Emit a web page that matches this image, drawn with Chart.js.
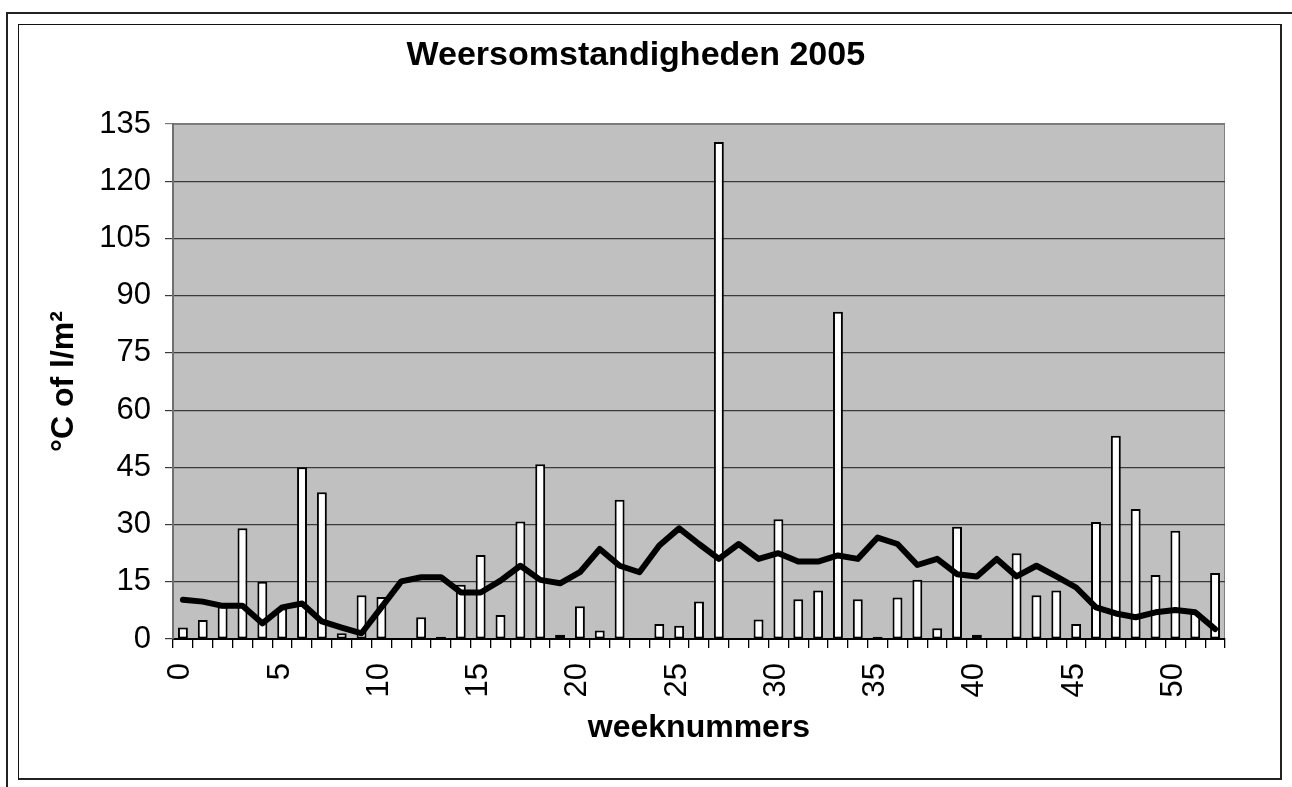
<!DOCTYPE html>
<html>
<head>
<meta charset="utf-8">
<script src="https://cdn.jsdelivr.net/npm/chart.js@4"></script>
<style>
  html, body { margin: 0; padding: 0; background: #fff; width: 1292px; height: 787px; overflow: hidden; }
  #outer { position: absolute; left: 6px; top: 12px; width: 2000px; height: 2000px; border-left: 2px solid #222; border-top: 2px solid #222; }
  #inner { position: absolute; left: 18px; top: 24px; border-left: 1px solid #111; border-top: 1px solid #111; border-right: 2px solid #222; border-bottom: 2px solid #222; box-sizing: border-box; width: 1264px; height: 756px; }
  #c { position: absolute; left: 0; top: 0; z-index: 2; }
</style>
</head>
<body>
<div id="outer"></div>
<div id="inner"></div>
<canvas id="c" width="1292" height="787"></canvas>
<script>
const weeks = [0,1,2,3,4,5,6,7,8,9,10,11,12,13,14,15,16,17,18,19,20,21,22,23,24,25,26,27,28,29,30,31,32,33,34,35,36,37,38,39,40,41,42,43,44,45,46,47,48,49,50,51,52];
const shownWeekLabels = ['0','5','10','15','20','25','30','35','40','45','50'];
const rainfall = [3,5,8.5,29,15,8,45,38.5,1.5,11.5,11,0,5.7,0.6,14.2,22,6.3,30.8,45.8,1.1,8.6,2.2,36.5,0,3.9,3.5,9.8,130.3,0,5.1,31.4,10.4,12.7,85.8,10.4,0.6,10.9,15.5,2.8,29.4,1.1,0,22.5,11.5,12.7,3.9,30.7,53.3,34.1,16.8,28.4,7,17.3];
const temperature = [10.3,9.8,8.7,8.7,4.1,8.3,9.3,4.6,3.0,1.5,8.3,15.1,16.2,16.2,12.2,12.2,15.3,19.2,15.5,14.6,17.5,23.6,19.2,17.5,24.5,29.0,24.9,21.0,24.9,21.0,22.5,20.3,20.3,21.9,21.0,26.6,24.9,19.4,21.0,17.0,16.4,21.0,16.4,19.2,16.4,13.5,8.3,6.7,5.7,7.0,7.6,7.0,2.6];
const yTicks = [0,15,30,45,60,75,90,105,120,135];
const chartTitle = 'Weersomstandigheden 2005';
const xTitle = 'weeknummers';
const yTitle = '°C of l/m²';

const FONT = "'Liberation Sans', Arial, sans-serif";

const plotBg = {
  id: 'plotBg',
  beforeDraw(chart) {
    const {ctx, chartArea: a} = chart;
    ctx.save();
    ctx.fillStyle = '#C0C0C0';
    ctx.fillRect(a.left, a.top, a.right - a.left, a.bottom - a.top);
    ctx.strokeStyle = '#808080';
    ctx.lineWidth = 1;
    ctx.strokeRect(a.left + 0.5, a.top + 0.5, a.right - a.left - 1, a.bottom - a.top - 1);
    ctx.restore();
  }
};

new Chart(document.getElementById('c'), {
  data: {
    labels: weeks.map(String),
    datasets: [
      {
        type: 'line',
        label: 'temperatuur',
        data: temperature,
        borderColor: '#000',
        borderWidth: 6,
        borderJoinStyle: 'round',
        borderCapStyle: 'round',
        pointRadius: 0,
        tension: 0,
        order: 0
      },
      {
        type: 'bar',
        label: 'neerslag',
        data: rainfall,
        backgroundColor: '#fff',
        borderColor: '#000',
        borderWidth: 2,
        borderSkipped: false,
        barPercentage: 0.5,
        categoryPercentage: 1,
        order: 1
      }
    ]
  },
  options: {
    responsive: false,
    animation: false,
    devicePixelRatio: 1,
    layout: { padding: { left: 18, right: 38.4, top: 0, bottom: 0 } },
    plugins: {
      legend: { display: false },
      tooltip: { enabled: false },
      title: {
        display: true,
        text: chartTitle,
        color: '#000',
        font: { family: FONT, size: 34, weight: 'bold' },
        padding: { top: 35.4, bottom: 47.8 }
      }
    },
    scales: {
      x: {
        type: 'category',
        offset: true,
        grid: { display: true, drawOnChartArea: false, drawTicks: true, tickLength: 9, offset: true, color: '#000', lineWidth: 1.3 },
        border: { display: true, color: '#000', width: 2 },
        ticks: {
          autoSkip: false,
          minRotation: 90,
          maxRotation: 90,
          padding: 15,
          labelOffset: -2,
          color: '#000',
          font: { family: FONT, size: 31 },
          callback: function(val, i) {
            const l = String(weeks[i]);
            return shownWeekLabels.includes(l) ? l : '';
          }
        },
        title: {
          display: true,
          text: xTitle,
          color: '#000',
          font: { family: FONT, size: 32, weight: 'bold' },
          padding: { top: 0, bottom: 39.4 }
        },
        afterFit(s) { s.height = 148; }
      },
      y: {
        type: 'linear',
        position: 'left',
        min: 0,
        max: 135,
        afterBuildTicks(s) { s.ticks = yTicks.map(v => ({ value: v })); },
        grid: {
          display: true,
          drawOnChartArea: true,
          drawTicks: true,
          tickLength: 8,
          lineWidth: 1.2,
          color: (ctx) => (ctx.tick && ctx.tick.value === 135) ? '#7a7a7a' : '#3a3a3a'
        },
        border: { display: true, color: '#707070', width: 2 },
        ticks: {
          padding: 14,
          color: '#000',
          font: { family: FONT, size: 31 }
        },
        title: {
          display: true,
          text: yTitle,
          color: '#000',
          font: { family: FONT, size: 32, weight: 'bold' },
          padding: { top: 26.8, bottom: 0 }
        },
        afterFit(s) { s.width = 155; }
      },
      yRight: {
        type: 'linear',
        position: 'right',
        display: true,
        grid: { display: false, drawTicks: false },
        border: { display: false },
        ticks: { display: false },
        afterFit(s) { s.width = 28.6; }
      }
    }
  },
  plugins: [plotBg]
});
</script>
</body>
</html>
